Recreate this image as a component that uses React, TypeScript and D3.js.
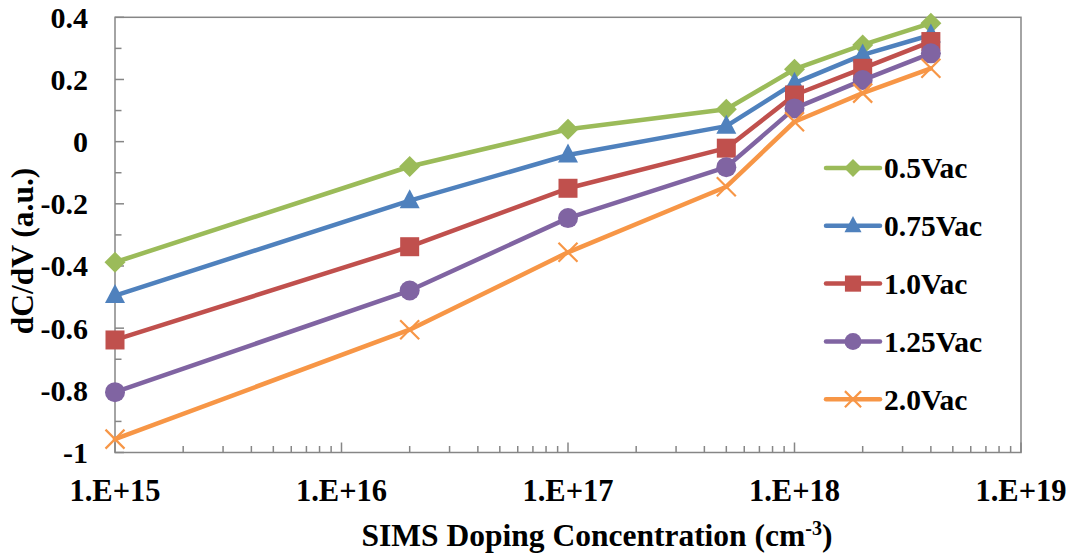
import React from "react";
import * as d3 from "d3";

const xValues = [1e15, 2e16, 1e17, 5e17, 1e18, 2e18, 4e18];
const seriesNames = ["0.5Vac", "0.75Vac", "1.0Vac", "1.25Vac", "2.0Vac"];
const v05 = [-0.388, -0.08, 0.04, 0.104, 0.233, 0.311, 0.381];
const v075 = [-0.495, -0.19, -0.043, 0.05, 0.188, 0.279, 0.343];
const v10 = [-0.638, -0.338, -0.15, -0.021, 0.15, 0.236, 0.322];
const v125 = [-0.806, -0.479, -0.246, -0.082, 0.107, 0.198, 0.284];
const v20 = [-0.957, -0.605, -0.356, -0.145, 0.064, 0.156, 0.236];
const seriesValues = [v05, v075, v10, v125, v20];
const colors = ["#9BBB59", "#4F81BD", "#C0504D", "#8064A2", "#F79646"];
const markers = ["diamond", "triangle", "square", "circle", "x"];
const yTicks = [0.4, 0.2, 0, -0.2, -0.4, -0.6, -0.8, -1];
const yTickLabels = ["0.4", "0.2", "0", "-0.2", "-0.4", "-0.6", "-0.8", "-1"];
const xTicks = [1e15, 1e16, 1e17, 1e18, 1e19];
const xTickLabels = ["1.E+15", "1.E+16", "1.E+17", "1.E+18", "1.E+19"];

const W = 1074;
const H = 557;
const left = 115, right = 1021, top = 17.3, bottom = 452.5;
const FONT = "Liberation Serif, DejaVu Serif, serif";
const AXIS = "#868686";
const tstyle = { fontFamily: FONT, fontWeight: 700 } as React.CSSProperties;

function Marker({ type, x, y, color, s = 1 }: { type: string; x: number; y: number; color: string; s?: number }) {
  if (type === "diamond") {
    const r = 10.5 * s;
    return <path d={`M${x},${y - r}L${x + r},${y}L${x},${y + r}L${x - r},${y}Z`} fill={color} />;
  }
  if (type === "triangle") {
    const h = 19 * s, w = 20 * s;
    return <path d={`M${x},${y - h * 0.6}L${x + w / 2},${y + h * 0.4}L${x - w / 2},${y + h * 0.4}Z`} fill={color} />;
  }
  if (type === "square") {
    const a = 19 * s;
    return <rect x={x - a / 2} y={y - a / 2} width={a} height={a} fill={color} />;
  }
  if (type === "circle") {
    return <circle cx={x} cy={y} r={10 * s} fill={color} />;
  }
  const r = 9.5 * s;
  return (
    <path d={`M${x - r},${y - r}L${x + r},${y + r}M${x - r},${y + r}L${x + r},${y - r}`} stroke={color} strokeWidth={2.2} fill="none" />
  );
}

export default function App() {
  const x = d3.scaleLog().domain([1e15, 1e19]).range([left, right]);
  const y = d3.scaleLinear().domain([-1, 0.4]).range([bottom, top]);
  const line = d3
    .line<number>()
    .x((_, i) => x(xValues[i]))
    .y((d) => y(d));

  const minorX: number[] = [];
  for (let e = 15; e < 19; e++) {
    for (let m = 2; m <= 9; m++) minorX.push(m * Math.pow(10, e));
  }
  const minorY = d3.range(-0.9, 0.4, 0.2);

  const legendY0 = 168;
  const legendStep = 57.8;

  return (
    <svg width={W} height={H} style={{ position: "absolute", left: 0, top: 0, background: "#fff" }}>
      <rect x={0} y={0} width={W} height={H} fill="#fff" />
      <rect x={left} y={top} width={right - left} height={bottom - top} fill="none" stroke={AXIS} strokeWidth={1.5} />
      {yTicks.map((t) => (
        <line key={"ym" + t} x1={left} x2={left + 9} y1={y(t)} y2={y(t)} stroke={AXIS} strokeWidth={1.5} />
      ))}
      {minorY.map((t) => (
        <line key={"yn" + t} x1={left} x2={left + 6.5} y1={y(t)} y2={y(t)} stroke={AXIS} strokeWidth={1.5} />
      ))}
      {xTicks.map((t) => (
        <line key={"xm" + t} x1={x(t)} x2={x(t)} y1={bottom} y2={bottom - 10} stroke={AXIS} strokeWidth={1.5} />
      ))}
      {minorX.map((t) => (
        <line key={"xn" + t} x1={x(t)} x2={x(t)} y1={bottom} y2={bottom - 6.5} stroke={AXIS} strokeWidth={1.5} />
      ))}
      {yTicks.map((t, i) => (
        <text key={"yl" + t} x={88} y={y(t)} dy="0.35em" textAnchor="end" fontSize={30} style={tstyle}>
          {yTickLabels[i]}
        </text>
      ))}
      {xTicks.map((t, i) => (
        <text key={"xl" + t} x={x(t)} y={501} textAnchor="middle" fontSize={30.5} style={tstyle}>
          {xTickLabels[i]}
        </text>
      ))}
      <text x={597} y={546} textAnchor="middle" fontSize={31.5} style={tstyle}>
        SIMS Doping Concentration (cm
        <tspan fontSize={20} dy={-11}>-3</tspan>
        <tspan dy={11}>)</tspan>
      </text>
      <text transform={`translate(33,251) rotate(-90)`} textAnchor="middle" fontSize={31.5} style={tstyle}>
        dC/dV (a.u.)
      </text>
      {seriesValues.map((vals, si) => (
        <g key={seriesNames[si]}>
          <path d={line(vals) || ""} fill="none" stroke={colors[si]} strokeWidth={4.5} strokeLinejoin="round" strokeLinecap="round" />
          {vals.map((v, i) => (
            <Marker key={i} type={markers[si]} x={x(xValues[i])} y={y(v)} color={colors[si]} />
          ))}
        </g>
      ))}
      {seriesNames.map((n, si) => {
        const ly = legendY0 + si * legendStep;
        return (
          <g key={"lg" + n}>
            <line x1={826} x2={880} y1={ly} y2={ly} stroke={colors[si]} strokeWidth={4.5} strokeLinecap="round" />
            <Marker type={markers[si]} x={853} y={ly} color={colors[si]} s={0.85} />
            <text x={884} y={ly} dy="0.35em" fontSize={29.5} style={tstyle}>
              {n}
            </text>
          </g>
        );
      })}
    </svg>
  );
}
